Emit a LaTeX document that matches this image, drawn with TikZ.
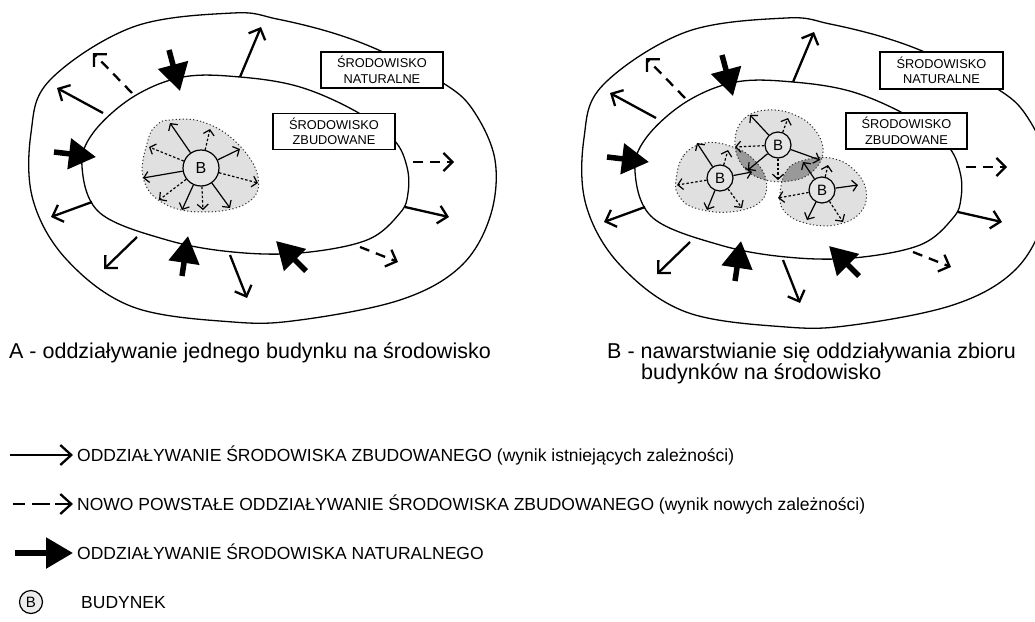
\documentclass[tikz,border=0pt]{standalone}
\usepackage{fontspec}
\setmainfont{Liberation Sans}
\usetikzlibrary{arrows.meta}
\begin{document}
\begin{tikzpicture}[x=1pt,y=-1pt,
  ring/.style={line width=1.3pt},
  sarr/.style={line width=2.3pt,-{Straight Barb[length=9pt,width=18pt]}},
  darr/.style={sarr,dash pattern=on 10pt off 7pt},
  karr/.style={line width=5.5pt,-{Triangle[length=27pt,width=30pt]}},
  barr/.style={line width=1.2pt,-{Straight Barb[length=5pt,width=11pt]}},
  bdarr/.style={barr,dash pattern=on 2.5pt off 2pt},
  larr/.style={line width=2.3pt,-{Straight Barb[length=11pt,width=20pt]}},
  blobfill/.style={fill=black!12},
  blobline/.style={draw=black!80,line width=1pt,dash pattern=on 1.2pt off 2.3pt},
  lbl/.style={draw,fill=white,line width=1.2pt,minimum width=122pt,minimum height=36pt,inner sep=0pt,align=center,font=\fontsize{12.8}{15.5}\selectfont},
  bnode/.style={circle,draw,fill=black!10,line width=1.2pt,inner sep=0pt},
  captext/.style={anchor=base west,inner sep=0pt,font=\fontsize{21.5}{21}\selectfont},
  legtext/.style={anchor=base west,inner sep=0pt,font=\fontsize{17.5}{20}\selectfont}
]
\useasboundingbox (0,0) rectangle (1035,621);

\def\outerring{plot[smooth cycle,tension=0.6] coordinates {(233,13) (277,19) (333,33) (383,52) (443,83) (473,110) (495,160) (490,217) (460,267) (400,300) (300,320) (233,322) (133,307) (67,260) (33,200) (31,133) (50,80) (133,27)}}
\def\innerring{plot[smooth cycle,tension=0.6] coordinates {(183,77) (240,77) (300,87) (357,112) (394,140) (407,167) (408,193) (400,213) (367,240) (300,253) (233,252) (167,240) (100,213) (82,167) (93,133) (133,97)}}

% ---------- rings ----------
\foreach \dx/\dy in {0/0,553/5}{
\begin{scope}[shift={(\dx,\dy)}]
  \draw[ring] \outerring;
  \draw[ring] \innerring;
\end{scope}
}

% label boxes
\node[lbl] (natA) at (382,70) {ŚRODOWISKO\\NATURALNE};
\node[lbl] (zbuA) at (334,131.5) {ŚRODOWISKO\\ZBUDOWANE};
\node[lbl,minimum width=123pt,minimum height=37pt] (natB) at (941.5,70.5) {ŚRODOWISKO\\NATURALNE};
\node[lbl,minimum width=121pt] (zbuB) at (906.5,131) {ŚRODOWISKO\\ZBUDOWANE};

% ---------- environment arrows (A and B) ----------
\foreach \dx/\dy in {0/0,553/5}{
\begin{scope}[shift={(\dx,\dy)}]
  \draw[sarr] (240,77) -- (261,27);
  \draw[sarr] (103,113) -- (57,88);
  \draw[sarr] (92,202) -- (51,217);
  \draw[sarr] (137,237) -- (104,269);
  \draw[sarr] (230,255) -- (247,298);
  \draw[sarr] (405,207) -- (449,217);
  \draw[darr] (132,93) -- (93,53);
  \draw[darr] (413,162) -- (454,162);
  \draw[darr] (360,247) -- (398,262);
  \draw[karr] (169,50) -- (180,91);
  \draw[karr] (54,152) -- (96,157);
  \draw[karr] (182,276) -- (188,236);
  \draw[karr] (306,271) -- (276,241);
\end{scope}
}

% ---------- single building (A) ----------
\def\blobA{plot[smooth cycle,tension=0.7] coordinates {(170,120) (203,122) (237,143) (258,177) (247,203) (203,212) (163,203) (143,177) (148,140) (157,125)}}
\fill[blobfill] \blobA;
\draw[blobline] \blobA;
\node[bnode,minimum size=36pt,font=\fontsize{16}{16}\selectfont] (bA) at (201,168) {B};
\draw[barr] (bA) -- (170,123);
\draw[barr] (bA) -- (240,149);
\draw[barr] (bA) -- (143,178);
\draw[barr] (bA) -- (182,210);
\draw[barr] (bA) -- (230,208);
\draw[bdarr] (bA) -- (210,129);
\draw[bdarr] (bA) -- (149,147);
\draw[bdarr] (bA) -- (258,183);
\draw[bdarr] (bA) -- (159,200);
\draw[bdarr] (bA) -- (203,210);

% ---------- group of buildings (B) ----------
\def\blobP{plot[smooth cycle,tension=0.7] coordinates {(676,180) (684,155) (705,143) (730,146) (752,158) (766,180) (760,202) (730,212) (695,208) (679,196)}}
\def\blobQ{plot[smooth cycle,tension=0.7] coordinates {(735,140) (745,118) (768,110) (795,115) (815,130) (823,152) (812,172) (790,181) (762,179) (742,165)}}
\def\blobR{plot[smooth cycle,tension=0.7] coordinates {(780,195) (787,170) (805,160) (830,158) (852,168) (866,190) (860,213) (835,225) (805,223) (785,212)}}
\fill[blobfill] \blobP;
\fill[blobfill] \blobQ;
\fill[blobfill] \blobR;
\begin{scope}
  \clip \blobQ;
  \fill[black!40] \blobP;
  \fill[black!40] \blobR;
\end{scope}
\draw[blobline] \blobP;
\draw[blobline] \blobQ;
\draw[blobline] \blobR;

\node[bnode,minimum size=26pt,font=\fontsize{15}{15}\selectfont] (b1) at (720,178) {B};
\node[bnode,minimum size=26pt,font=\fontsize{15}{15}\selectfont] (b2) at (778,145) {B};
\node[bnode,minimum size=26pt,font=\fontsize{15}{15}\selectfont] (b3) at (822,190) {B};

\draw[barr] (b1) -- (697,143);
\draw[barr] (b1) -- (752,172);
\draw[barr] (b1) -- (707,210);
\draw[bdarr] (b1) -- (728,150);
\draw[bdarr] (b1) -- (677,185);
\draw[bdarr] (b1) -- (742,208);

\draw[barr] (b2) -- (750,115);
\draw[barr] (b2) -- (820,160);
\draw[barr] (b2) -- (748,170);
\draw[bdarr] (b2) -- (788,118);
\draw[bdarr] (b2) -- (735,147);
\draw[bdarr] (b2) -- (778,180);

\draw[barr] (b3) -- (803,162);
\draw[barr] (b3) -- (858,185);
\draw[barr] (b3) -- (807,220);
\draw[bdarr] (b3) -- (828,165);
\draw[bdarr] (b3) -- (778,198);
\draw[bdarr] (b3) -- (843,222);

% ---------- captions ----------
\node[captext] (capA) at (9,358) {A - oddziaływanie jednego budynku na środowisko};
\node[captext] (capB1) at (607,358) {B - nawarstwianie się oddziaływania zbioru};
\node[captext] (capB2) at (641,379) {budynków na środowisko};

% ---------- legend ----------
\coordinate (l1a) at (10,455); \coordinate (l1b) at (73,455);
\coordinate (l2a) at (13,504); \coordinate (l2b) at (73,504);
\coordinate (l3a) at (15,553); \coordinate (l3b) at (73,553);
\draw[larr] (l1a) -- (l1b);
\draw[larr,dash pattern=on 12pt off 7pt on 18pt off 5pt on 40pt off 1pt] (l2a) -- (l2b);
\draw[karr] (l3a) -- (l3b);
\node[bnode,fill=black!8,minimum size=23pt,font=\fontsize{15}{15}\selectfont] (lb) at (31,602) {B};
\node[legtext] (t1) at (77,461.5) {ODDZIAŁYWANIE ŚRODOWISKA ZBUDOWANEGO (wynik istniejących zależności)};
\node[legtext] (t2) at (77,510.5) {NOWO POWSTAŁE ODDZIAŁYWANIE ŚRODOWISKA ZBUDOWANEGO (wynik nowych zależności)};
\node[legtext] (t3) at (77,559.5) {ODDZIAŁYWANIE ŚRODOWISKA NATURALNEGO};
\node[legtext] (t4) at (81,608.5) {BUDYNEK};
\end{tikzpicture}
\end{document}
